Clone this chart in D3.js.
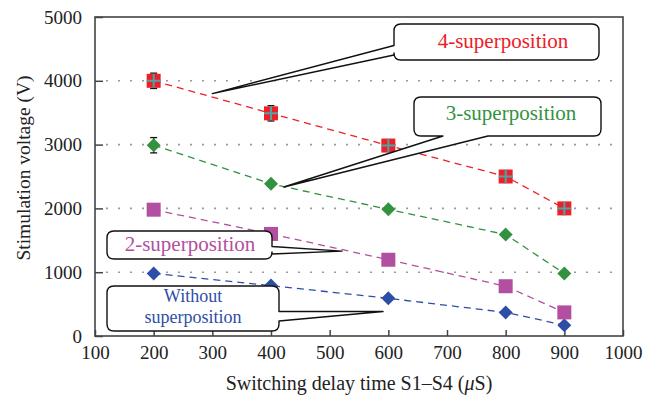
<!DOCTYPE html>
<html>
<head>
<meta charset="utf-8">
<script src="https://cdn.jsdelivr.net/npm/d3@7"></script>
<style>
  body { margin: 0; background: #fff; }
  svg text { font-family: "Liberation Serif", "Times New Roman", serif; }
</style>
</head>
<body>
<svg id="chart" width="646" height="398"></svg>
<script>
// switching delay (uS)
const delays = [200, 400, 600, 800, 900];
const xTicks = [100, 200, 300, 400, 500, 600, 700, 800, 900, 1000];
const yTicks = [0, 1000, 2000, 3000, 4000, 5000];
const gridValues = [1000, 2000, 3000, 4000];

// stimulation voltage (V)
const fourSup = [4000, 3490, 2985, 2500, 2000];
const threeSup = [2990, 2385, 1985, 1590, 980];
const twoSup = [1980, 1600, 1195, 780, 370];
const withoutSup = [980, 790, 590, 370, 170];

// error bars: [delay, value, half-range]
const errorBars = [[200, 4000, 120], [400, 3490, 120], [200, 2990, 120]];

const svg = d3.select("#chart");
const margin = {top: 17, right: 23, bottom: 62, left: 95};
const W = 646, H = 398;

const x = d3.scaleLinear().domain([100, 1000]).range([margin.left, W - margin.right]);
const y = d3.scaleLinear().domain([0, 5000]).range([H - margin.bottom, margin.top]);

// dotted grid
svg.append("g").selectAll("line")
    .data(gridValues).enter().append("line")
    .attr("x1", x(100) + 11).attr("x2", x(1000) - 10)
    .attr("y1", d => y(d)).attr("y2", d => y(d))
    .attr("stroke", "#9a9a9a").attr("stroke-width", 1.6)
    .attr("stroke-dasharray", "2,10");

// axes
const xAxis = svg.append("g")
    .attr("transform", `translate(0,${y(0)})`)
    .call(d3.axisBottom(x).tickValues(xTicks).tickFormat(d3.format("d"))
        .tickSizeInner(-6).tickSizeOuter(0).tickPadding(10));
const yAxis = svg.append("g")
    .attr("transform", `translate(${x(100)},0)`)
    .call(d3.axisLeft(y).tickValues(yTicks).tickFormat(d3.format("d"))
        .tickSizeInner(-8).tickSizeOuter(0).tickPadding(13));
[xAxis, yAxis].forEach(a => {
    a.select(".domain").remove();
    a.selectAll("line").attr("stroke", "#444").attr("stroke-width", 1.5);
    a.selectAll("text").attr("font-size", 19).attr("fill", "#222")
        .attr("font-family", "Liberation Serif");
});

// frame
svg.append("rect")
    .attr("x", x(100)).attr("y", y(5000))
    .attr("width", x(1000) - x(100)).attr("height", y(0) - y(5000))
    .attr("fill", "none").attr("stroke", "#444").attr("stroke-width", 1.6);

// axis titles
svg.append("text")
    .attr("x", (x(100) + x(1000)) / 2).attr("y", 390)
    .attr("text-anchor", "middle").attr("font-size", 20).attr("fill", "#222")
    .html('Switching delay time S1–S4 (<tspan font-style="italic">μ</tspan>S)');
svg.append("text")
    .attr("transform", "translate(30,168) rotate(-90)")
    .attr("text-anchor", "middle").attr("font-size", 19.5).attr("fill", "#222")
    .text("Stimulation voltage (V)");

const series = [
    {name: "without", values: withoutSup, color: "#2e4ea6", shape: "diamond"},
    {name: "two", values: twoSup, color: "#b24fa0", shape: "square"},
    {name: "three", values: threeSup, color: "#33923f", shape: "diamond"},
    {name: "four", values: fourSup, color: "#ec2128", shape: "squarePlus"}
];

const line = d3.line().x(d => x(d[0])).y(d => y(d[1]));

series.forEach(s => {
    const pts = delays.map((d, i) => [d, s.values[i]]);
    svg.append("path")
        .attr("d", line(pts))
        .attr("fill", "none").attr("stroke", s.color)
        .attr("stroke-width", 1.3).attr("stroke-dasharray", "7,5");
});

// error bars (under the markers)
const eb = svg.append("g").attr("stroke", "#111").attr("stroke-width", 1.3);
errorBars.forEach(([d, v, e]) => {
    eb.append("line").attr("x1", x(d)).attr("x2", x(d)).attr("y1", y(v - e)).attr("y2", y(v + e));
    [v - e, v + e].forEach(c => eb.append("line")
        .attr("x1", x(d) - 3.5).attr("x2", x(d) + 3.5).attr("y1", y(c)).attr("y2", y(c)));
});

// markers
series.forEach(s => {
    const g = svg.append("g");
    delays.forEach((d, i) => {
        const cx = x(d), cy = y(s.values[i]);
        if (s.shape === "diamond") {
            g.append("path")
                .attr("d", `M${cx},${cy - 7}L${cx + 7},${cy}L${cx},${cy + 7}L${cx - 7},${cy}Z`)
                .attr("fill", s.color);
        } else {
            g.append("rect")
                .attr("x", cx - 7).attr("y", cy - 7).attr("width", 14).attr("height", 14)
                .attr("fill", s.color);
            if (s.shape === "squarePlus") {
                g.append("path")
                    .attr("d", `M${cx - 7},${cy}H${cx + 7}M${cx},${cy - 7}V${cy + 7}`)
                    .attr("stroke", "#4fa3a6").attr("stroke-width", 2);
            }
        }
    });
});

// callouts: box in px, tip in data units, wedge on a side
function callout(b) {
    const {x0, y0, w, h} = b, r = 7;
    const tx = x(b.tip[0]), ty = y(b.tip[1]);
    const x1 = x0 + w, y1 = y0 + h;
    let p = `M${x0 + r},${y0}H${x1 - r}Q${x1},${y0} ${x1},${y0 + r}`;
    if (b.side === "right") p += `V${b.a1}L${tx},${ty}L${x1},${b.a2}`;
    p += `V${y1 - r}Q${x1},${y1} ${x1 - r},${y1}`;
    if (b.side === "bottom") p += `H${b.a2}L${tx},${ty}L${b.a1},${y1}`;
    p += `H${x0 + r}Q${x0},${y1} ${x0},${y1 - r}`;
    if (b.side === "left") p += `V${b.a2}L${tx},${ty}L${x0},${b.a1}`;
    p += `V${y0 + r}Q${x0},${y0} ${x0 + r},${y0}Z`;
    svg.append("path").attr("d", p)
        .attr("fill", "#fff").attr("stroke", "#111").attr("stroke-width", 1.4)
        .attr("stroke-linejoin", "round");
    b.lines.forEach((t, i) => svg.append("text")
        .attr("x", b.tx).attr("y", b.ty + i * b.lead)
        .attr("text-anchor", "middle").attr("font-size", b.size).attr("fill", b.color)
        .text(t));
}

const callouts = [
    {lines: ["4-superposition"], color: "#ec2128", x0: 394, y0: 24, w: 205, h: 36, size: 21, lead: 0,
     side: "left", a1: 45.5, a2: 55, tip: [300, 3800], tx: 503, ty: 48},
    {lines: ["3-superposition"], color: "#33923f", x0: 414, y0: 97, w: 187, h: 39, size: 21, lead: 0,
     side: "bottom", a1: 443, a2: 488, tip: [422, 2335], tx: 511, ty: 120},
    {lines: ["2-superposition"], color: "#b24fa0", x0: 107, y0: 231, w: 165, h: 28, size: 21, lead: 0,
     side: "right", a1: 246.5, a2: 254, tip: [521, 1330], tx: 190, ty: 251},
    {lines: ["Without", "superposition"], color: "#2e4ea6", x0: 107, y0: 286, w: 172, h: 45, size: 18, lead: 21,
     side: "right", a1: 311.5, a2: 321, tip: [591, 384], tx: 193, ty: 301.5}
];
callouts.forEach(callout);
</script>
</body>
</html>
